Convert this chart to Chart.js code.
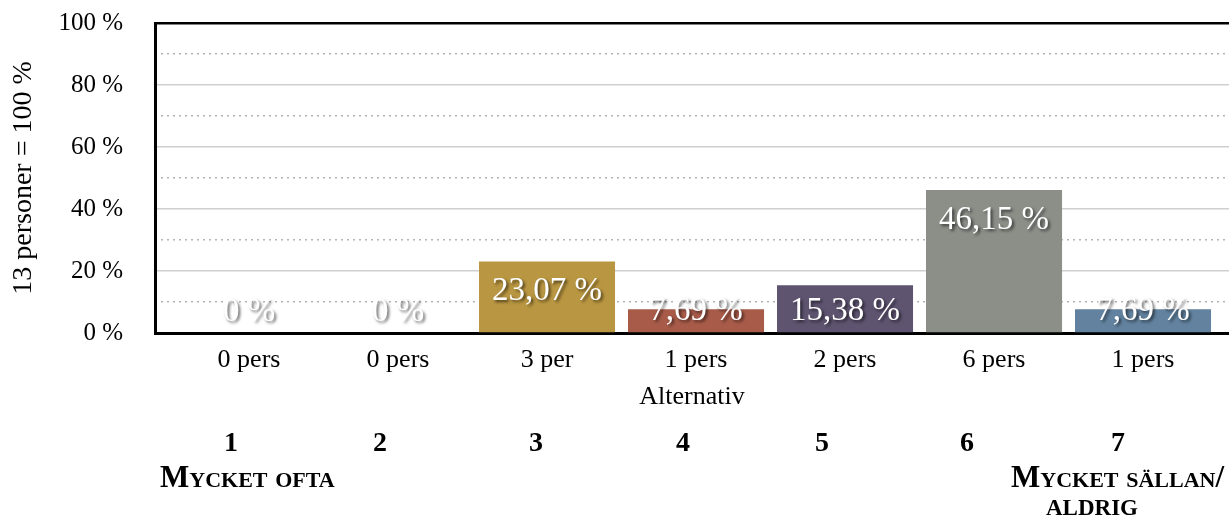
<!DOCTYPE html>
<html>
<head>
<meta charset="utf-8">
<script src="https://cdn.jsdelivr.net/npm/chart.js@4/dist/chart.umd.min.js"></script>
<style>
  body { margin: 0; background: #fff; }
  #wrap { position: relative; width: 1229px; height: 517px; overflow: hidden; }
  #wrap canvas { position: absolute; left: 0; top: 0; }
  .note { position: absolute; font-family: 'Liberation Serif', 'Times New Roman', serif; font-weight: bold; color: #000; line-height: 1; white-space: nowrap; }
  .num { font-size: 28px; transform: translate(-50%, -50%); }
  .word { font-variant: small-caps; }
</style>
</head>
<body>
<div id="wrap">
  <canvas id="chart" width="1229" height="517"></canvas>
</div>
<script>
// data
const categories = ['0 pers', '0 pers', '3 per', '1 pers', '2 pers', '6 pers', '1 pers'];
const percentValues = [0, 0, 23.07, 7.69, 15.38, 46.15, 7.69];
const barColors = ['#4f81bd', '#c0504d', '#b99641', '#a85b49', '#5e5470', '#8b8f88', '#62829f'];
const yTicks = [0, 20, 40, 60, 80, 100];
const scaleNumbers = ['1', '2', '3', '4', '5', '6', '7'];
const endLabels = ['Mycket ofta', 'Mycket sällan/', 'aldrig'];

const SERIF = "'Liberation Serif', 'Times New Roman', serif";

const fmtPercent = v => (v === 0 ? '0' : v.toFixed(2).replace('.', ',')) + ' %';

// vita etiketter med skugga i staplarna
const barLabels = {
    id: 'barLabels',
    afterDatasetsDraw(chart) {
        const ctx = chart.ctx;
        const meta = chart.getDatasetMeta(0);
        ctx.save();
        ctx.font = '33px ' + SERIF;
        ctx.textAlign = 'center';
        ctx.textBaseline = 'middle';
        ctx.fillStyle = '#fff';
        ctx.shadowColor = 'rgba(0,0,0,0.6)';
        ctx.shadowOffsetX = 2;
        ctx.shadowOffsetY = 2;
        ctx.shadowBlur = 3;
        meta.data.forEach((bar, i) => {
            const y = Math.min(bar.y + 30, bar.base - 21);
            ctx.fillText(fmtPercent(percentValues[i]), bar.x, y);
        });
        ctx.restore();
    }
};

const ctx = document.getElementById('chart').getContext('2d');
new Chart(ctx, {
    type: 'bar',
    data: {
        datasets: [{
            data: percentValues.map((v, i) => ({ x: i, y: v })),
            backgroundColor: barColors,
            categoryPercentage: 1,
            barPercentage: 0.913
        }]
    },
    options: {
        responsive: false,
        animation: false,
        layout: { padding: { top: 23, right: 0, bottom: 100, left: 0 } },
        plugins: { legend: { display: false }, tooltip: { enabled: false } },
        scales: {
            x: {
                type: 'linear',
                offset: false,
                min: -0.631,
                max: 6.577,
                afterFit: s => { s.height = 84; },
                afterBuildTicks: s => { s.ticks = categories.map((c, i) => ({ value: i })); },
                grid: { drawOnChartArea: false, drawTicks: true, tickLength: 12, tickColor: 'rgba(0,0,0,0)', offset: false },
                border: { color: '#000', width: 3 },
                ticks: {
                    autoSkip: false,
                    maxRotation: 0,
                    padding: 0,
                    color: '#000',
                    font: { family: SERIF, size: 26 },
                    callback: v => categories[v] !== undefined ? categories[v] : ''
                },
                title: {
                    display: true,
                    text: 'Alternativ',
                    color: '#000',
                    font: { family: SERIF, size: 26 },
                    padding: { top: 4, bottom: 4 }
                }
            },
            y: {
                min: 0,
                max: 100,
                afterFit: s => { s.width = 155; },
                afterBuildTicks: s => { s.ticks = yTicks.map(v => ({ value: v })); },
                grid: {
                    drawTicks: true,
                    tickLength: 32,
                    tickColor: 'rgba(0,0,0,0)',
                    color: c => c.tick && c.tick.value === 100 ? '#000' : '#cfcfcf',
                    lineWidth: c => c.tick && c.tick.value === 100 ? 2.5 : 1.5
                },
                border: { color: '#000', width: 3 },
                ticks: {
                    padding: 0,
                    color: '#000',
                    font: { family: SERIF, size: 25 },
                    callback: v => v + ' %'
                },
                title: {
                    display: true,
                    text: '13 personer = 100 %',
                    color: '#000',
                    font: { family: SERIF, size: 28 },
                    padding: { top: 7, bottom: 0 }
                }
            },
            yMinor: {
                position: 'left',
                min: 0,
                max: 100,
                afterFit: s => { s.width = 0; },
                grid: {
                    drawTicks: false,
                    color: c => c.tick && c.tick.value % 20 !== 0 ? '#b4b4b4' : 'rgba(0,0,0,0)',
                    lineWidth: 1.5
                },
                border: { display: false, dash: [2, 4] },
                ticks: { display: false, stepSize: 10 }
            }
        }
    },
    plugins: [barLabels]
});

// skalan under diagrammet
const wrap = document.getElementById('wrap');
const numX = [231, 380, 536, 683, 822, 967, 1118];
scaleNumbers.forEach((t, i) => {
    const el = document.createElement('div');
    el.className = 'note num';
    el.textContent = t;
    el.style.left = numX[i] + 'px';
    el.style.top = '442px';
    wrap.appendChild(el);
});
const wordPos = [[160, 461, 31], [1011, 461, 31], [1046, 488, 33]];
endLabels.forEach((t, i) => {
    const el = document.createElement('div');
    el.className = 'note word';
    el.textContent = t;
    el.style.left = wordPos[i][0] + 'px';
    el.style.top = wordPos[i][1] + 'px';
    el.style.fontSize = wordPos[i][2] + 'px';
    wrap.appendChild(el);
});
</script>
</body>
</html>
